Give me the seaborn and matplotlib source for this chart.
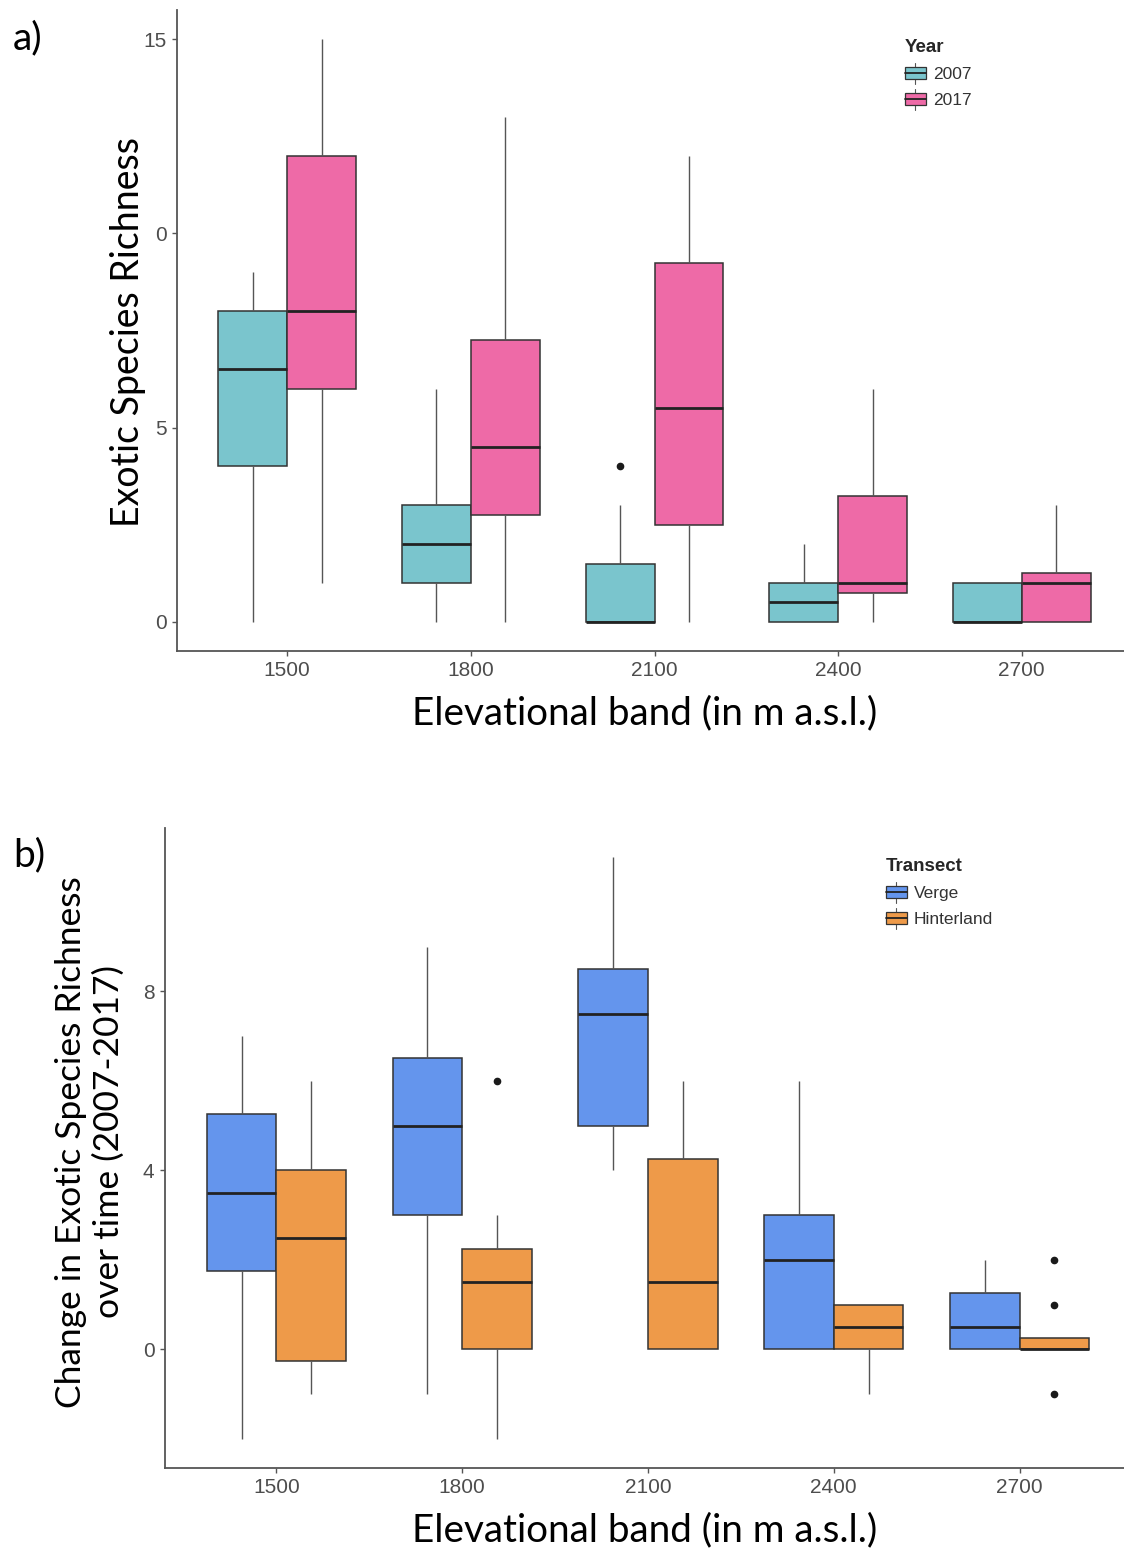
import numpy as np
import pandas as pd
import matplotlib
matplotlib.use("Agg")
import matplotlib.pyplot as plt
import seaborn as sns
from matplotlib.legend_handler import HandlerBase
from matplotlib.patches import Rectangle, Patch
from matplotlib.lines import Line2D

# ---------------- data ----------------
bands = ["1500", "1800", "2100", "2400", "2700"]

# Panel a: Exotic species richness, five-number summaries per band
years = ["2007", "2017"]
a07_low = [0, 0, 0, 0, 0]
a07_q1 = [4, 1, 0, 0, 0]
a07_med = [6.5, 2, 0, 0.5, 0]
a07_q3 = [8, 3, 1.5, 1, 1]
a07_high = [9, 6, 3, 2, 1]
a07_out = [[], [], [4], [], []]

a17_low = [1, 0, 0, 0, 0]
a17_q1 = [6, 2.75, 2.5, 0.75, 0]
a17_med = [8, 4.5, 5.5, 1, 1]
a17_q3 = [12, 7.25, 9.25, 3.25, 1.25]
a17_high = [15, 13, 12, 6, 3]
a17_out = [[], [], [], [], []]

# Panel b: change in exotic species richness (2007-2017)
transects = ["Verge", "Hinterland"]
bv_low = [-2, -1, 4, 0, 0]
bv_q1 = [1.75, 3, 5, 0, 0]
bv_med = [3.5, 5, 7.5, 2, 0.5]
bv_q3 = [5.25, 6.5, 8.5, 3, 1.25]
bv_high = [7, 9, 11, 6, 2]
bv_out = [[], [], [], [], []]

bh_low = [-1, -2, 0, -1, 0]
bh_q1 = [-0.25, 0, 0, 0, 0]
bh_med = [2.5, 1.5, 1.5, 0.5, 0]
bh_q3 = [4, 2.25, 4.25, 1, 0.25]
bh_high = [6, 3, 6, 1, 0.25]
bh_out = [[], [6], [], [], [-1, 1, 2]]

ytick_vals_a = [0, 5, 10, 15]
ytick_labels_a = ["0", "5", "0", "15"]
ytick_vals_b = [0, 4, 8]
ytick_labels_b = ["0", "4", "8"]


def expand(lo, q1, med, q3, hi, out, m=4):
    """Sample whose type-7 quartiles / whiskers reproduce the summary."""
    L = sorted(v for v in out if v < q1)
    H = sorted(v for v in out if v > q3)
    n = 4 * m + 1
    vals = [None] * n
    for i, v in enumerate(L):
        vals[i] = v
    vals[len(L)] = lo
    for i in range(len(L) + 1, m + 1):
        vals[i] = q1
    for i in range(m + 1, 2 * m + 1):
        vals[i] = med
    for i in range(2 * m + 1, 4 * m - len(H)):
        vals[i] = q3
    vals[4 * m - len(H)] = hi
    for j, v in enumerate(H):
        vals[4 * m - len(H) + 1 + j] = v
    return vals


def build(groups, names, key):
    rows = []
    for name, (lo, q1, md, q3, hi, out) in zip(names, groups):
        for i, b in enumerate(bands):
            for v in expand(lo[i], q1[i], md[i], q3[i], hi[i], out[i]):
                rows.append({"band": b, key: name, "value": v})
    return pd.DataFrame(rows)


df_a = build([(a07_low, a07_q1, a07_med, a07_q3, a07_high, a07_out),
              (a17_low, a17_q1, a17_med, a17_q3, a17_high, a17_out)], years, "Year")
df_b = build([(bv_low, bv_q1, bv_med, bv_q3, bv_high, bv_out),
              (bh_low, bh_q1, bh_med, bh_q3, bh_high, bh_out)], transects, "Transect")

pal_a = {"2007": "#7AC5CD", "2017": "#EE6AA7"}
pal_b = {"Verge": "#6495ED", "Hinterland": "#EE9A49"}

# ---------------- style ----------------
sns.set_theme(style="white")
plt.rcParams["font.family"] = ["Liberation Sans", "DejaVu Sans"]

W, H = 1124, 1551
fig = plt.figure(figsize=(W / 100, H / 100), dpi=100)
fig.patch.set_facecolor("white")


def ax_rect(l, r, t, b):
    return [l / W, 1 - b / H, (r - l) / W, (b - t) / H]


ax_a = fig.add_axes(ax_rect(177, 1132, 10, 651))
ax_b = fig.add_axes(ax_rect(165, 1131, 828, 1468))

box_kw = dict(width=0.75, gap=0, saturation=1, linecolor="#333333", linewidth=1.1,
              showcaps=False, fliersize=4.5,
              flierprops=dict(marker="o", markerfacecolor="#1a1a1a", markeredgecolor="#1a1a1a"),
              medianprops=dict(color="#222222", linewidth=2.0),
              whiskerprops=dict(color="#555555", linewidth=1.0),
              legend=False)

sns.boxplot(data=df_a, x="band", y="value", hue="Year", hue_order=years, order=bands,
            palette=pal_a, ax=ax_a, **box_kw)
sns.boxplot(data=df_b, x="band", y="value", hue="Transect", hue_order=transects, order=bands,
            palette=pal_b, ax=ax_b, **box_kw)

for ax, ylim, tv, tl in [(ax_a, (-0.75, 15.75), ytick_vals_a, ytick_labels_a),
                         (ax_b, (-2.65, 11.65), ytick_vals_b, ytick_labels_b)]:
    ax.set_xlim(-0.6, 4.6)
    ax.set_ylim(*ylim)
    ax.set_yticks(tv)
    ax.set_yticklabels(tl)
    ax.set_xlabel("")
    ax.set_ylabel("")
    for s in ["top", "right"]:
        ax.spines[s].set_visible(False)
    for s in ["left", "bottom"]:
        ax.spines[s].set_color("#555555")
        ax.spines[s].set_linewidth(1.3)
    ax.tick_params(axis="both", which="both", direction="out", length=3.5, width=1,
                   color="#555555", labelcolor="#4D4D4D", labelsize=15, pad=4,
                   left=True, bottom=True)
    ax.set_facecolor("white")


# ---------------- legends ----------------
class BoxKey(HandlerBase):
    def create_artists(self, legend, orig, xd, yd, w, h, fs, trans):
        fc = orig.get_facecolor()
        x0, y0 = -xd, -yd
        bh = h * 0.8
        yb = y0 + (h - bh) / 2
        wt = Line2D([x0 + w / 2] * 2, [yb + bh, y0 + h + h * 0.2], color="#555555",
                    lw=0.8, transform=trans)
        wb = Line2D([x0 + w / 2] * 2, [yb, y0 - h * 0.2], color="#555555",
                    lw=0.8, transform=trans)
        rect = Rectangle((x0, yb), w, bh, facecolor=fc, edgecolor="#333333", lw=0.9,
                         transform=trans)
        med = Line2D([x0, x0 + w], [y0 + h / 2] * 2, color="#222222", lw=1.3,
                     transform=trans)
        return [wt, wb, rect, med]


def add_legend(ax, title, names, pal, x, y):
    handles = [Patch(facecolor=pal[n], label=n) for n in names]
    leg = ax.legend(handles=handles, title=title, loc="upper left",
                    bbox_to_anchor=(x / W, 1 - y / H), bbox_transform=fig.transFigure,
                    frameon=False, fontsize=12.5, title_fontsize=13.5, handlelength=1.2,
                    handleheight=0.95, handletextpad=0.4, labelspacing=0.55,
                    borderpad=0.0, borderaxespad=0.0, alignment="left",
                    handler_map={Patch: BoxKey()})
    leg.get_title().set_fontweight("bold")
    for t in leg.get_texts():
        t.set_color("#333333")


add_legend(ax_a, "Year", years, pal_a, 905, 39)
add_legend(ax_b, "Transect", transects, pal_b, 886, 858)

# ---------------- titles / labels ----------------
def big(size):
    return dict(family=["Lato", "DejaVu Sans"], fontsize=size, color="black")


def fx(x):
    return x / W


def fy(y):
    return 1 - y / H


fig.text(fx(645), fy(713), "Elevational band (in m a.s.l.)", ha="center", va="center", **big(27.8))
fig.text(fx(645), fy(1530), "Elevational band (in m a.s.l.)", ha="center", va="center", **big(27.8))
fig.text(fx(128), fy(332), "Exotic Species Richness", ha="center", va="center",
         rotation=90, **big(27))
fig.text(fx(90), fy(1142), "Change in Exotic Species Richness\nover time (2007-2017)",
         ha="center", va="center", rotation=90, multialignment="center",
         linespacing=1.2, **big(25.5))
fig.text(fx(28), fy(38), "a)", ha="center", va="center", **big(28))
fig.text(fx(29), fy(855), "b)", ha="center", va="center", **big(28))

fig.savefig("out.png", dpi=100, facecolor="white")
